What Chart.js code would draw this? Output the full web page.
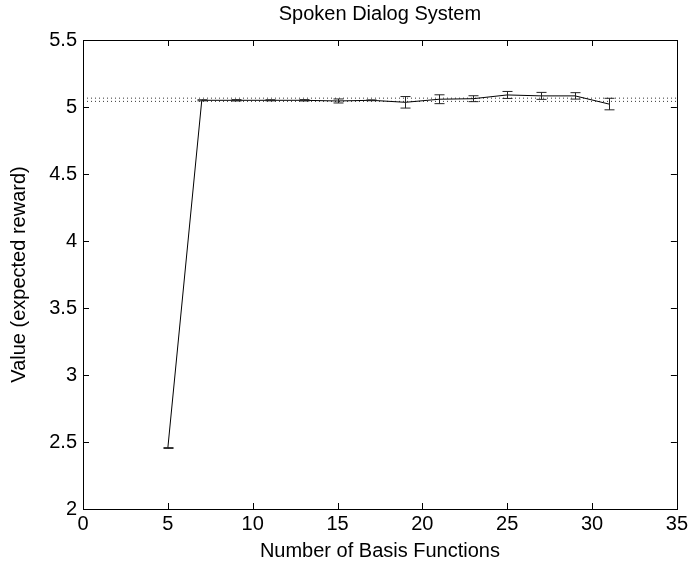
<!DOCTYPE html>
<html>
<head>
<meta charset="utf-8">
<script src="https://cdn.jsdelivr.net/npm/chart.js@4"></script>
<style>
  html, body { margin: 0; padding: 0; background: #fff; }
  #wrap { width: 691px; height: 573px; }
</style>
</head>
<body>
<div id="wrap"><canvas id="chart" width="691" height="573"></canvas></div>
<script>
// data
const basisCounts = [5, 7, 9, 11, 13, 15, 17, 19, 21, 23, 25, 27, 29, 31];
const values      = [2.455, 5.05, 5.05, 5.05, 5.05, 5.045, 5.05, 5.035, 5.058, 5.062, 5.09, 5.083, 5.083, 5.022];
const errors      = [0.003, 0.004, 0.005, 0.004, 0.005, 0.015, 0.003, 0.043, 0.033, 0.022, 0.026, 0.026, 0.024, 0.043];
const refUpper = 5.066;
const refLower = 5.042;
const xTicks = [0, 5, 10, 15, 20, 25, 30, 35];
const yTicks = [2, 2.5, 3, 3.5, 4, 4.5, 5, 5.5];

const FONT = 'Liberation Sans, Arial, Helvetica, sans-serif';

// error bars + matlab style inner ticks
const matlabBits = {
  id: 'matlabBits',
  afterDatasetsDraw(chart) {
    const { ctx, chartArea: a, scales: { x, y } } = chart;
    ctx.save();
    // error bars
    ctx.strokeStyle = '#222';
    ctx.lineWidth = 1;
    basisCounts.forEach((b, i) => {
      const px = Math.round(x.getPixelForValue(b)) + 0.5;
      const top = y.getPixelForValue(values[i] + errors[i]);
      const bot = y.getPixelForValue(values[i] - errors[i]);
      ctx.beginPath();
      ctx.moveTo(px, top); ctx.lineTo(px, bot);
      ctx.moveTo(px - 5, top); ctx.lineTo(px + 5, top);
      ctx.moveTo(px - 5, bot); ctx.lineTo(px + 5, bot);
      ctx.stroke();
    });
    // box
    ctx.strokeStyle = '#000';
    ctx.strokeRect(Math.round(a.left) + 0.5, Math.round(a.top) + 0.5,
      Math.round(a.right - a.left), Math.round(a.bottom - a.top));
    // inner ticks
    const len = 6;
    ctx.beginPath();
    xTicks.forEach(t => {
      const px = Math.round(x.getPixelForValue(t)) + 0.5;
      ctx.moveTo(px, a.bottom); ctx.lineTo(px, a.bottom - len);
      ctx.moveTo(px, a.top); ctx.lineTo(px, a.top + len);
    });
    yTicks.forEach(t => {
      const py = Math.round(y.getPixelForValue(t)) + 0.5;
      ctx.moveTo(a.left, py); ctx.lineTo(a.left + len, py);
      ctx.moveTo(a.right, py); ctx.lineTo(a.right - len, py);
    });
    ctx.stroke();
    ctx.restore();
  }
};

new Chart(document.getElementById('chart'), {
  type: 'line',
  data: {
    datasets: [
      {
        data: basisCounts.map((b, i) => ({ x: b, y: values[i] })),
        borderColor: '#000',
        borderWidth: 1,
        pointRadius: 0,
        tension: 0
      },
      {
        data: [{ x: 0, y: refUpper }, { x: 35, y: refUpper }],
        borderColor: '#333',
        borderWidth: 1,
        borderDash: [1, 3],
        pointRadius: 0
      },
      {
        data: [{ x: 0, y: refLower }, { x: 35, y: refLower }],
        borderColor: '#333',
        borderWidth: 1,
        borderDash: [1, 3],
        pointRadius: 0
      }
    ]
  },
  options: {
    responsive: false,
    animation: false,
    layout: { padding: { left: 6, right: 13, top: 0, bottom: 10 } },
    plugins: {
      legend: { display: false },
      tooltip: { enabled: false },
      title: {
        display: true,
        fullSize: false,
        text: 'Spoken Dialog System',
        color: '#000',
        font: { family: FONT, size: 20, weight: 'normal' },
        padding: { top: 2, bottom: 14 }
      }
    },
    scales: {
      x: {
        type: 'linear',
        min: 0, max: 35,
        afterBuildTicks: s => { s.ticks = xTicks.map(v => ({ value: v })); },
        grid: { display: false, drawTicks: false },
        border: { display: false },
        ticks: { color: '#000', font: { family: FONT, size: 20 }, padding: 3, maxRotation: 0 },
        title: {
          display: true,
          text: 'Number of Basis Functions',
          color: '#000',
          font: { family: FONT, size: 20 },
          padding: { top: 2, bottom: 0 }
        },
        afterFit: s => { s.height = 54; }
      },
      y: {
        type: 'linear',
        min: 2, max: 5.5,
        afterBuildTicks: s => { s.ticks = yTicks.map(v => ({ value: v })); },
        grid: { display: false, drawTicks: false },
        border: { display: false },
        ticks: {
          color: '#000', font: { family: FONT, size: 20 }, padding: 6,
          callback: v => String(v)
        },
        title: {
          display: true,
          text: 'Value (expected reward)',
          color: '#000',
          font: { family: FONT, size: 20 },
          padding: { top: 1, bottom: 8 }
        },
        afterFit: s => { s.width = 77; }
      }
    }
  },
  plugins: [matlabBits]
});
</script>
</body>
</html>
